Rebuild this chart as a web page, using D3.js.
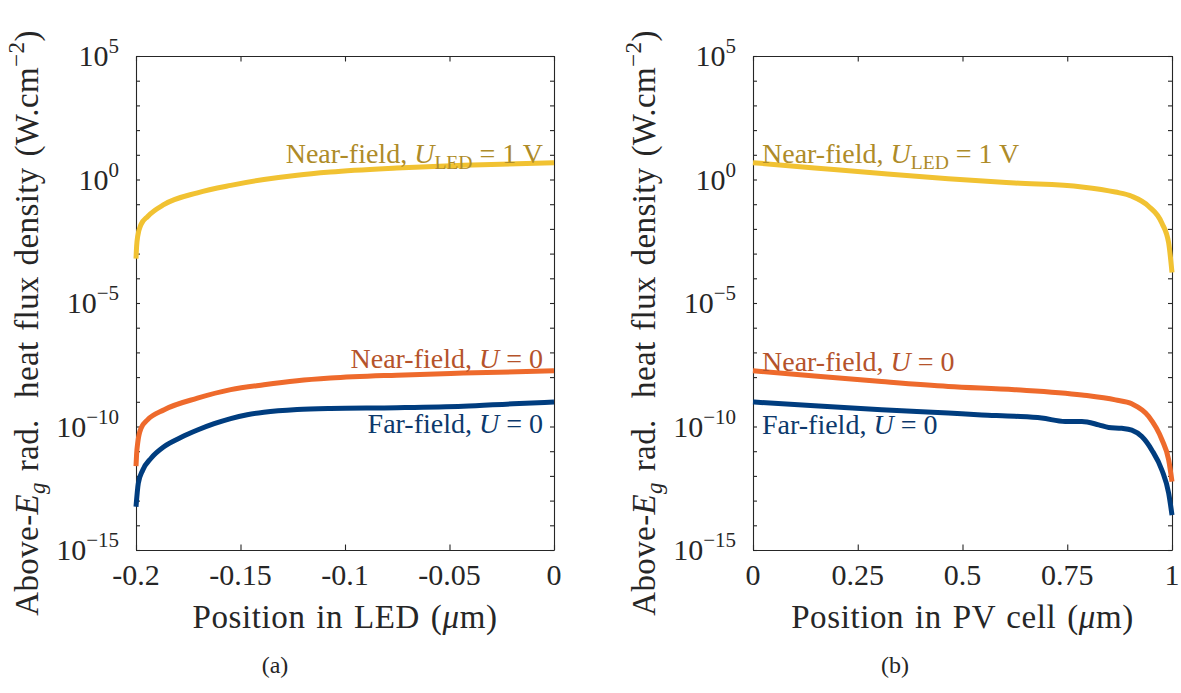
<!DOCTYPE html>
<html>
<head>
<meta charset="utf-8">
<script src="https://cdn.jsdelivr.net/npm/d3@7"></script>
<style>
  html, body { margin: 0; padding: 0; background: #fff; }
  svg { display: block; font-family: "Liberation Serif", "DejaVu Serif", serif; }
  text { white-space: pre; }
</style>
</head>
<body>
<svg id="fig" width="1181" height="693"></svg>
<script>
// ---- (a) LED: positions in µm, flux in W.cm^-2 ----
const ledTicks = [-0.2, -0.15, -0.1, -0.05, 0];
const ledTickLabels = ["-0.2", "-0.15", "-0.1", "-0.05", "0"];

const ledBiasPos  = [-0.2, -0.1997, -0.1992, -0.1976, -0.1944, -0.1865, -0.1706, -0.1547, -0.1388, -0.1229, -0.107, -0.0752, -0.0434, 0];
const ledBiasFlux = [6.3e-4, 2.0e-3, 5.0e-3, 1.5e-2, 3.2e-2, 9.8e-2, 0.29, 0.58, 1.0, 1.5, 2.0, 2.9, 3.8, 4.8];

const ledNearPos  = [-0.2, -0.1997, -0.1992, -0.1976, -0.1944, -0.1865, -0.1706, -0.1547, -0.1388, -0.1229, -0.107, -0.0752, -0.0434, 0];
const ledNearFlux = [2.5e-12, 7.9e-12, 2.1e-11, 8.5e-11, 1.9e-10, 4.8e-10, 1.4e-9, 3.1e-9, 4.9e-9, 7.1e-9, 9.1e-9, 1.2e-8, 1.45e-8, 1.8e-8];

const ledFarPos  = [-0.2, -0.1989, -0.1968, -0.1928, -0.1865, -0.1786, -0.1706, -0.1626, -0.1547, -0.1468, -0.1388, -0.1229, -0.107, -0.0752, -0.0434, -0.0196, 0];
const ledFarFlux = [5.6e-14, 5.0e-13, 1.7e-12, 5.2e-12, 1.55e-11, 3.6e-11, 7.2e-11, 1.3e-10, 2.1e-10, 3.0e-10, 3.8e-10, 4.9e-10, 5.4e-10, 5.75e-10, 6.6e-10, 8.3e-10, 9.8e-10];

// ---- (b) PV cell ----
const pvTicks = [0, 0.25, 0.5, 0.75, 1];
const pvTickLabels = ["0", "0.25", "0.5", "0.75", "1"];

const pvBiasPos  = [0, 0.147, 0.307, 0.466, 0.625, 0.785, 0.865, 0.904, 0.944, 0.976, 0.992, 1.0];
const pvBiasFlux = [4.8, 2.95, 1.74, 1.07, 0.72, 0.50, 0.31, 0.21, 0.083, 0.017, 2.7e-3, 1.7e-4];

const pvNearPos  = [0, 0.147, 0.307, 0.466, 0.625, 0.785, 0.865, 0.904, 0.944, 0.976, 0.992, 1.0];
const pvNearFlux = [1.8e-8, 1.1e-8, 6.6e-9, 4.2e-9, 3.1e-9, 1.9e-9, 1.2e-9, 8.3e-10, 2.6e-10, 2.9e-11, 4.5e-12, 5.9e-13];

const pvFarPos  = [0, 0.147, 0.307, 0.466, 0.546, 0.625, 0.689, 0.745, 0.785, 0.825, 0.849, 0.880, 0.904, 0.928, 0.952, 0.976, 0.992, 1.0];
const pvFarFlux = [9.8e-10, 6.9e-10, 4.8e-10, 3.5e-10, 2.95e-10, 2.6e-10, 2.2e-10, 1.6e-10, 1.6e-10, 1.17e-10, 9.1e-11, 8.5e-11, 7.2e-11, 3.9e-11, 1.1e-11, 1.7e-12, 2.0e-13, 2.6e-14];

// ---- shared y axis (log) ----
const yDomain = [1e-15, 1e5];
const decadeExponents = d3.range(-15, 6);
const labelledExponents = [-15, -10, -5, 0, 5];

// ---- styling ----
const lineColors  = { bias: "#F1C232", near: "#EE6A2C", far: "#003D7F" };
const textColors  = { bias: "#AE8B28", near: "#B5532B", far: "#0C396C" };
const axisColor = "#262626";
const tickFont = 30, titleFont = 33, labelFont = 28, captionFont = 24;

const svg = d3.select("#fig");

// Append a text made of normal / italic / sub / superscript runs.
function richText(sel, parts, size) {
  let cur = 0;
  parts.forEach(p => {
    const s = p.shift ? size * 0.7 : size;
    const target = p.shift === "sup" ? -size * 0.42 : p.shift === "sub" ? size * 0.22 : 0;
    const ts = sel.append("tspan").text(p.t).attr("font-size", s);
    if (target !== cur) { ts.attr("dy", target - cur); cur = target; }
    if (p.italic) ts.attr("font-style", "italic");
  });
  return sel;
}

function drawPanel(cfg) {
  const { left, right, top, bottom } = cfg.box;
  const x = d3.scaleLinear().domain(cfg.xDomain).range([left, right]);
  const y = d3.scaleLog().domain(yDomain).range([bottom, top]);
  const g = svg.append("g");

  // inward ticks on all four sides
  const yTickVals = decadeExponents.map(e => Math.pow(10, e));
  g.append("g").attr("transform", `translate(${left},0)`)
    .call(d3.axisLeft(y).tickValues(yTickVals).tickSize(-4).tickSizeOuter(0).tickFormat(""));
  g.append("g").attr("transform", `translate(${right},0)`)
    .call(d3.axisRight(y).tickValues(yTickVals).tickSize(-4).tickSizeOuter(0).tickFormat(""));
  g.append("g").attr("transform", `translate(0,${bottom})`)
    .call(d3.axisBottom(x).tickValues(cfg.ticks).tickSize(-5.5).tickSizeOuter(0).tickFormat(""));
  g.append("g").attr("transform", `translate(0,${top})`)
    .call(d3.axisTop(x).tickValues(cfg.ticks).tickSize(-5.5).tickSizeOuter(0).tickFormat(""));
  g.selectAll(".domain, .tick line").attr("stroke", axisColor).attr("stroke-width", 1.1);

  // y tick labels 10^n
  labelledExponents.forEach(e => {
    const t = g.append("text")
      .attr("x", left - 17).attr("y", y(Math.pow(10, e)) + 10)
      .attr("text-anchor", "end").attr("fill", axisColor);
    richText(t, [{ t: "10" }, { t: e < 0 ? "\u2212" + (-e) : String(e), shift: "sup" }], tickFont);
  });

  // x tick labels
  cfg.ticks.forEach((v, i) => {
    g.append("text").attr("x", x(v)).attr("y", bottom + 35)
      .attr("text-anchor", "middle").attr("fill", axisColor)
      .attr("font-size", tickFont).text(cfg.tickLabels[i]);
  });

  // axis titles
  const xt = g.append("text").attr("x", (left + right) / 2).attr("y", bottom + 78)
    .attr("text-anchor", "middle").attr("fill", axisColor)
    .attr("letter-spacing", 0.6).attr("word-spacing", 2);
  richText(xt, [{ t: cfg.xTitle }, { t: "\u03bc", italic: true }, { t: "m)" }], titleFont);

  const yt = g.append("text")
    .attr("transform", `translate(${left - 98},${(top + bottom) / 2 + 20}) rotate(-90)`)
    .attr("text-anchor", "middle").attr("fill", axisColor)
    .attr("letter-spacing", 0.4).attr("word-spacing", 2);
  richText(yt, [
    { t: "Above-" }, { t: "E", italic: true }, { t: "g", italic: true, shift: "sub" },
    { t: " rad.  heat flux density (W.cm" }, { t: "\u22122", shift: "sup" }, { t: ")" }
  ], titleFont);

  // curves
  const line = d3.line().x(d => x(d[0])).y(d => y(d[1])).curve(d3.curveMonotoneX);
  cfg.series.forEach(s => {
    g.append("path").datum(d3.zip(s.pos, s.flux))
      .attr("d", line).attr("fill", "none")
      .attr("stroke", lineColors[s.key]).attr("stroke-width", 5)
      .attr("stroke-linejoin", "round");
  });

  // in-plot labels
  cfg.labels.forEach(l => {
    const t = g.append("text")
      .attr("x", l.anchor === "end" ? right - 11 : left + 9)
      .attr("y", y(l.at))
      .attr("text-anchor", l.anchor).attr("fill", textColors[l.key]);
    richText(t, l.parts, labelFont);
  });

  // panel caption
  g.append("text").attr("x", cfg.captionX).attr("y", 673)
    .attr("text-anchor", "middle").attr("fill", axisColor)
    .attr("font-size", captionFont).text(cfg.caption);
}

const biasLabel = [{ t: "Near-field, " }, { t: "U", italic: true }, { t: "LED", shift: "sub" }, { t: " = 1 V" }];
const nearLabel = [{ t: "Near-field, " }, { t: "U", italic: true }, { t: " = 0" }];
const farLabel  = [{ t: "Far-field, " }, { t: "U", italic: true }, { t: " = 0" }];

drawPanel({
  box: { left: 136, right: 554, top: 56, bottom: 550 },
  xDomain: [-0.2, 0], ticks: ledTicks, tickLabels: ledTickLabels,
  xTitle: "Position in LED (",
  series: [
    { key: "bias", pos: ledBiasPos, flux: ledBiasFlux },
    { key: "near", pos: ledNearPos, flux: ledNearFlux },
    { key: "far",  pos: ledFarPos,  flux: ledFarFlux }
  ],
  labels: [
    { key: "bias", anchor: "end", at: 10 ** 0.68, parts: biasLabel },
    { key: "near", anchor: "end", at: 10 ** -7.65, parts: nearLabel },
    { key: "far",  anchor: "end", at: 10 ** -10.25, parts: farLabel }
  ],
  caption: "(a)", captionX: 275
});

drawPanel({
  box: { left: 753, right: 1172, top: 56, bottom: 550 },
  xDomain: [0, 1], ticks: pvTicks, tickLabels: pvTickLabels,
  xTitle: "Position in PV cell (",
  series: [
    { key: "bias", pos: pvBiasPos, flux: pvBiasFlux },
    { key: "near", pos: pvNearPos, flux: pvNearFlux },
    { key: "far",  pos: pvFarPos,  flux: pvFarFlux }
  ],
  labels: [
    { key: "bias", anchor: "start", at: 10 ** 0.68, parts: biasLabel },
    { key: "near", anchor: "start", at: 10 ** -7.75, parts: nearLabel },
    { key: "far",  anchor: "start", at: 10 ** -10.32, parts: farLabel }
  ],
  caption: "(b)", captionX: 895
});
</script>
</body>
</html>
